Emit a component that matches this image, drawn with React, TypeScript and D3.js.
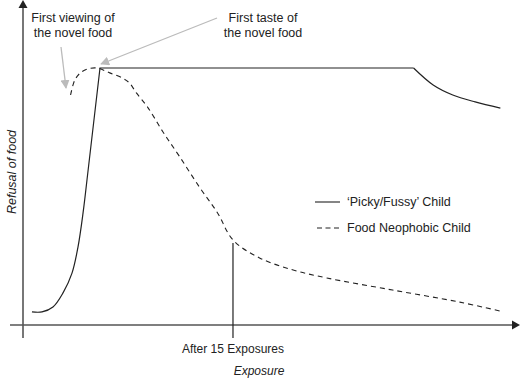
import React from "react";
import * as d3 from "d3";

// Exposure (x) vs refusal of food (y)
const pickyX = [0.64, 1.36, 2.14, 2.86, 3.5, 3.93, 4.29, 4.57, 5.5, 27.9, 29.3, 30.7, 32.3, 34.1];
const pickyY = [5.1, 5.1, 7.0, 12.5, 20.2, 30.4, 43.6, 56.4, 100, 100, 93.4, 89.5, 86.8, 84.4];
const neoX = [3.4, 3.7, 4.1, 4.6, 5.3, 6.2, 7.1, 7.6, 8.1, 8.9, 10.0, 11.2, 12.6, 13.9, 15.0, 16.9, 19.3, 21.7, 26.4, 31.2, 34.1];
const neoY = [89.5, 95.3, 98.1, 99.6, 100, 98.1, 96.1, 94.2, 90.3, 84.8, 75.1, 65.4, 53.7, 43.6, 33.1, 26.1, 21.4, 18.3, 13.6, 8.9, 5.4];
const markerX = 15;
const markerY = 31.9;
const legendLabels = ["\u2018Picky/Fussy\u2019 Child", "Food Neophobic Child"];
const xTickLabel = "After 15 Exposures";
const xTitle = "Exposure";
const yTitle = "Refusal of food";
const notes = [
  ["First viewing of", "the novel food"],
  ["First taste of", "the novel food"],
];

const W = 521;
const H = 379;

export default function App() {
  const x = d3.scaleLinear().domain([0, 35.36]).range([23, 518]);
  const y = d3.scaleLinear().domain([0, 100]).range([325, 68]);

  const picky = pickyX.map((v, i) => [v, pickyY[i]] as [number, number]);
  const neo = neoX.map((v, i) => [v, neoY[i]] as [number, number]);

  const smooth = d3
    .line<[number, number]>()
    .x((d) => x(d[0]))
    .y((d) => y(d[1]))
    .curve(d3.curveCatmullRom.alpha(0.5));
  const straight = d3
    .line<[number, number]>()
    .x((d) => x(d[0]))
    .y((d) => y(d[1]));

  const rise = picky.slice(0, 8);
  const plateau = picky.slice(7, 10);
  const decay = picky.slice(9);

  const axisColor = "#555";
  const font = "'Liberation Sans', Arial, sans-serif";
  const x0 = x(0);
  const yBase = y(0);

  return (
    <svg width={W} height={H} style={{ position: "absolute", left: 0, top: 0 }} fontFamily={font}>
      <rect width={W} height={H} fill="#fff" />
      {/* axes */}
      <line x1={x0} x2={x0} y1={7} y2={338} stroke={axisColor} strokeWidth={1.6} />
      <path d={`M${x0},0 L${x0 - 4.5},8 L${x0 + 4.5},8 Z`} fill="#222" />
      <line x1={10} x2={513} y1={yBase} y2={yBase} stroke={axisColor} strokeWidth={1.6} />
      <path d={`M520,${yBase} L512,${yBase - 4.5} L512,${yBase + 4.5} Z`} fill="#222" />

      {/* series */}
      <path d={smooth(rise) || ""} fill="none" stroke="#222" strokeWidth={1.2} />
      <path d={straight(plateau) || ""} fill="none" stroke="#222" strokeWidth={1.2} />
      <path d={smooth(decay) || ""} fill="none" stroke="#222" strokeWidth={1.2} />
      <path d={smooth(neo) || ""} fill="none" stroke="#222" strokeWidth={1.1} strokeDasharray="5,4" />

      {/* marker */}
      <line x1={x(markerX)} x2={x(markerX)} y1={y(markerY)} y2={338} stroke="#222" strokeWidth={1.2} />

      {/* annotation arrows */}
      <defs>
        <marker id="ah" viewBox="0 0 10 10" refX="9" refY="5" markerWidth="9" markerHeight="9" orient="auto" markerUnits="userSpaceOnUse">
          <path d="M0,0 L10,5 L0,10 Z" fill="#bbb" />
        </marker>
      </defs>
      <line x1={61} y1={47} x2={66} y2={88} stroke="#bbb" strokeWidth={1.3} markerEnd="url(#ah)" />
      <line x1={217} y1={18} x2={101} y2={64} stroke="#bbb" strokeWidth={1.3} markerEnd="url(#ah)" />

      {/* annotation text */}
      <g fontSize={12.5} fill="#222" textAnchor="middle">
        <text x={73} y={22}>{notes[0][0]}</text>
        <text x={73} y={37}>{notes[0][1]}</text>
        <text x={263} y={22}>{notes[1][0]}</text>
        <text x={263} y={37}>{notes[1][1]}</text>
      </g>

      {/* legend */}
      <line x1={315} x2={340} y1={202} y2={202} stroke="#222" strokeWidth={1.1} />
      <line x1={317} x2={339} y1={228} y2={228} stroke="#222" strokeWidth={1.1} strokeDasharray="5,3.5" />
      <g fontSize={12.5} fill="#222">
        <text x={347} y={206}>{legendLabels[0]}</text>
        <text x={347} y={232}>{legendLabels[1]}</text>
      </g>

      {/* axis labels */}
      <text x={x(markerX)} y={353} fontSize={12} textAnchor="middle" fill="#222">{xTickLabel}</text>
      <text x={259} y={375} fontSize={12} textAnchor="middle" fontStyle="italic" fill="#222">{xTitle}</text>
      <text transform="translate(16,172) rotate(-90)" fontSize={12.5} textAnchor="middle" fontStyle="italic" fill="#222">{yTitle}</text>
    </svg>
  );
}
